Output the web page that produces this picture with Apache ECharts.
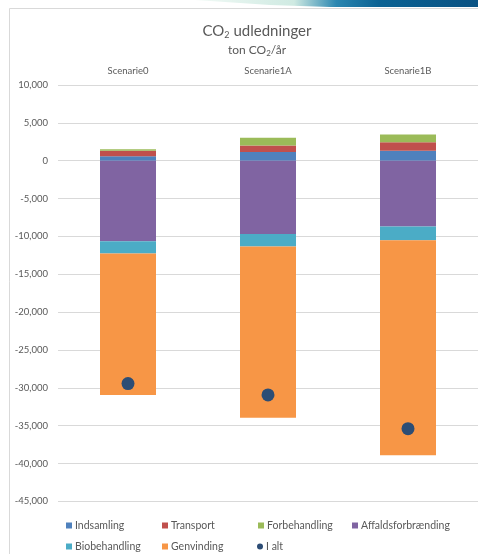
<!DOCTYPE html>
<html><head><meta charset="utf-8">
<script src="https://cdn.jsdelivr.net/npm/echarts@6/dist/echarts.min.js"></script>
<style>html,body{margin:0;padding:0;background:#fff}#c{width:478px;height:554px}</style>
</head><body><div id="c"></div>
<script>
var categories = ['Scenarie0', 'Scenarie1A', 'Scenarie1B'];
var indsamling = [600, 1150, 1320];
var transport = [700, 870, 1100];
var forbehandling = [200, 1000, 1050];
var affaldsforbraending = [-10650, -9690, -8710];
var biobehandling = [-1600, -1660, -1810];
var genvinding = [-18700, -22620, -28380];
var iAlt = [-29450, -30950, -35400];
var seriesNames = ['Indsamling', 'Transport', 'Forbehandling', 'Affaldsforbrænding', 'Biobehandling', 'Genvinding', 'I alt'];
var yMin = -45000, yMax = 10000, yStep = 5000;

var font = 'Lato, "Open Sans", sans-serif';
var txt = '#595959';
function bar(name, data, color) {
  return {name: name, type: 'bar', stack: 'total', data: data, barWidth: '40%',
    itemStyle: {color: color, opacity: 1}, emphasis: {disabled: true}};
}
var legendPos = [[61, 515], [157, 515], [253, 515], [347, 515], [61, 536], [157, 536], [252, 536]];
var legends = seriesNames.map(function (n, i) {
  return {
    left: legendPos[i][0], top: legendPos[i][1], itemWidth: 6, itemHeight: 6, itemGap: 0,
    selectedMode: false,
    textStyle: {fontSize: 10.5, color: txt, fontFamily: font, padding: [0, 0, 0, -2]},
    data: [{name: n, icon: n === 'I alt' ? 'circle' : 'rect'}]
  };
});
var chart = echarts.init(document.getElementById('c'), null, {renderer: 'canvas'});
chart.setOption({
  animation: false,
  backgroundColor: '#fff',
  textStyle: {fontFamily: font},
  title: {
    left: 252, top: 18, textAlign: 'center', itemGap: 4,
    text: '{a|CO}{s|2}{a| udledninger}',
    subtext: '{b|ton CO}{t|2}{b|/år}',
    textStyle: {fontWeight: 'normal', rich: {
      a: {fontSize: 15, color: txt, fontFamily: font, fontWeight: 'normal'},
      s: {fontSize: 9, color: txt, fontFamily: font, fontWeight: 'normal', verticalAlign: 'bottom', padding: [8, 0, 0, 0]}
    }},
    subtextStyle: {rich: {
      b: {fontSize: 12, color: txt, fontFamily: font},
      t: {fontSize: 8, color: txt, fontFamily: font, verticalAlign: 'bottom', padding: [6, 0, 0, 0]}
    }}
  },
  graphic: [
    {type: 'polygon', silent: true, shape: {points: [[195,0],[478,0],[478,7],[330,7],[270,5]]},
      style: {fill: {type: 'linear', x: 0, y: 0, x2: 1, y2: 0, colorStops: [
        {offset: 0, color: '#f2faf6'}, {offset: 0.35, color: '#cfeae2'},
        {offset: 0.5, color: '#2a86b0'}, {offset: 0.65, color: '#0b6293'}, {offset: 1, color: '#0a5283'}]}}},
    {type: 'rect', silent: true, shape: {x: 9.5, y: 8.5, width: 600, height: 600},
      style: {fill: 'none', stroke: '#d9d9d9', lineWidth: 1}}
  ],
  legend: legends,
  grid: {left: 58, right: -7, top: 85, bottom: 52.7, containLabel: false},
  xAxis: {
    type: 'category', position: 'top', data: categories,
    axisLine: {show: false}, axisTick: {show: false},
    axisLabel: {fontSize: 9.5, color: txt, fontFamily: font, margin: 9}
  },
  yAxis: {
    type: 'value', min: yMin, max: yMax, interval: yStep,
    axisLine: {show: false}, axisTick: {show: false},
    axisLabel: {fontSize: 9.5, color: txt, fontFamily: font, margin: 10,
      formatter: function (v) { return v.toLocaleString('en-US'); }},
    splitLine: {lineStyle: {color: '#d9d9d9', width: 1}}
  },
  series: [
    bar(seriesNames[0], indsamling, '#4f81bd'),
    bar(seriesNames[1], transport, '#c0504d'),
    bar(seriesNames[2], forbehandling, '#9bbb59'),
    bar(seriesNames[3], affaldsforbraending, '#8064a2'),
    bar(seriesNames[4], biobehandling, '#4bacc6'),
    bar(seriesNames[5], genvinding, '#f79646'),
    {name: seriesNames[6], type: 'scatter', data: iAlt, symbolSize: 13, z: 5,
      itemStyle: {color: '#2c4d75', opacity: 1}, emphasis: {disabled: true}}
  ]
});
</script></body></html>
